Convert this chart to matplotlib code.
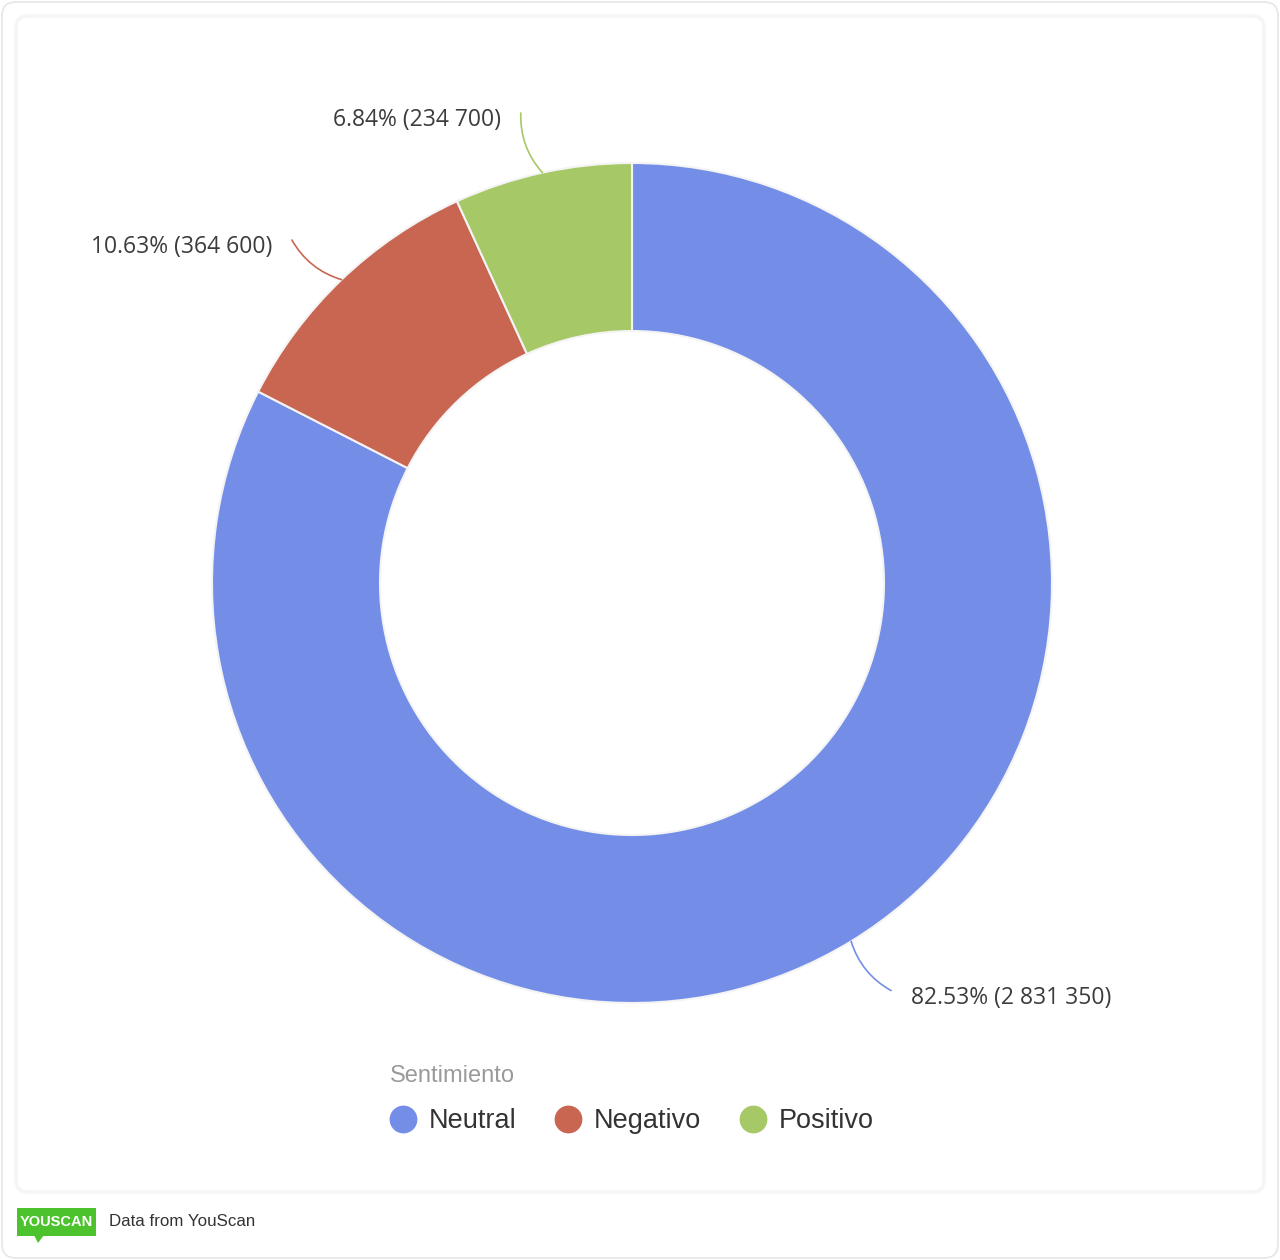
import numpy as np
import matplotlib.pyplot as plt
from matplotlib.patches import FancyBboxPatch, Polygon
from matplotlib.lines import Line2D

plt.rcParams['font.family'] = ['Liberation Sans', 'DejaVu Sans']

# data
categories = ["Neutral", "Negativo", "Positivo"]
values = [2831350, 364600, 234700]
pct_labels = ["82.53% (2 831 350)", "10.63% (364 600)", "6.84% (234 700)"]
colors = ["#748ee8", "#c86652", "#a6c866"]

W, H = 1280, 1260
fig = plt.figure(figsize=(W / 100, H / 100), dpi=100)
fig.patch.set_facecolor("white")

# background layer in pixel coords
bg = fig.add_axes([0, 0, 1, 1])
bg.set_xlim(0, W)
bg.set_ylim(H, 0)
bg.axis("off")
bg.add_patch(FancyBboxPatch((2, 2), W - 4, H - 4, boxstyle="round,pad=0,rounding_size=14",
                            fc="white", ec="#e6e6e6", lw=1.2))
bg.add_patch(FancyBboxPatch((16, 16), W - 32, 1176, boxstyle="round,pad=0,rounding_size=12",
                            fc="white", ec="#f5f5f5", lw=2.5))

# footer logo
bg.add_patch(FancyBboxPatch((17, 1208), 79, 28, boxstyle="square,pad=0", fc="#4cc32d", ec="none"))
bg.add_patch(Polygon([[34, 1235], [44, 1235], [38, 1243]], closed=True, fc="#4cc32d", ec="none"))
bg.text(56.5, 1222, "YOUSCAN", color="white", fontsize=10.5, fontweight="bold",
        ha="center", va="center")
bg.text(109, 1222, "Data from YouScan", color="#333333", fontsize=12.2, ha="left", va="center")

# donut
cx, cy, r = 632, 583, 420
ax = fig.add_axes([(cx - r) / W, (H - cy - r) / H, 2 * r / W, 2 * r / H])
wedges, _ = ax.pie(values, colors=colors, startangle=90, counterclock=False, radius=1,
                   wedgeprops=dict(width=0.4, edgecolor="#f4f4f4", linewidth=1.5))
ax.set_xlim(-1, 1)
ax.set_ylim(-1, 1)
ax.set_aspect("equal")
ax.axis("off")

for w, lab, col in zip(wedges, pct_labels, colors):
    mid = np.deg2rad((w.theta1 + w.theta2) / 2)
    x0, y0 = np.cos(mid), np.sin(mid)
    end = np.deg2rad((w.theta1 + w.theta2) / 2 + 1.0)
    x1, y1 = 1.15 * np.cos(end), 1.15 * np.sin(end)
    right = x1 > 0
    ax.annotate("", xy=(x0, y0), xytext=(x1, y1),
                arrowprops=dict(arrowstyle="-", color=col, lw=1.2,
                                connectionstyle="arc3,rad=%s" % (-0.2 if right else 0.2),
                                shrinkA=0, shrinkB=0))
    ax.annotate(lab, xy=(x1, y1), xytext=(14 if right else -14, -5), textcoords="offset points",
                ha="left" if right else "right", va="center", fontsize=16.5, color="#3c3c3c",
                fontweight="medium", fontfamily=["Open Sans", "DejaVu Sans"],
                annotation_clip=False)

# legend
fig.text(390 / W, 1 - 1076 / H, "Sentimiento", color="#9a9a9a", fontsize=17,
         ha="left", va="center")
handles = [Line2D([], [], marker="o", ls="", markersize=19, markerfacecolor=c, markeredgecolor=c)
           for c in colors]
leg = fig.legend(handles, categories, loc="center left", bbox_to_anchor=(368 / W, 1 - 1121 / H),
                 ncol=3, frameon=False, fontsize=19.5,
                 handletextpad=0.45, columnspacing=1.4, handlelength=1.0, borderpad=0.3)
for t in leg.get_texts():
    t.set_color("#333333")

fig.savefig("out.png", dpi=100, facecolor="white")
